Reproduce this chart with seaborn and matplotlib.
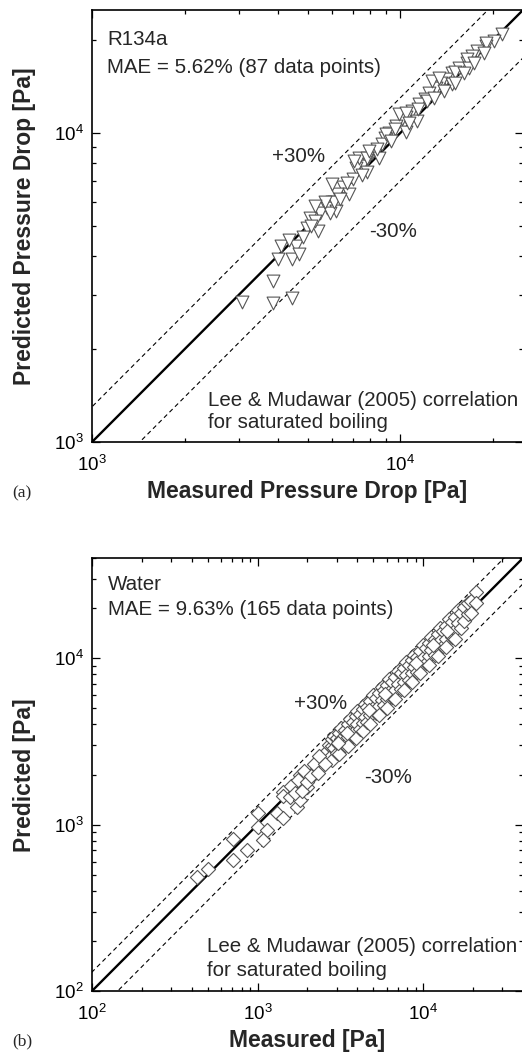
import matplotlib
matplotlib.use("Agg")
import matplotlib.pyplot as plt
import seaborn as sns
import numpy as np
import pandas as pd
from matplotlib.ticker import LogLocator, LogFormatterSciNotation, NullFormatter

sns.set_style("ticks")
plt.rcParams['font.family'] = ['Liberation Sans', 'DejaVu Sans']
plt.rcParams['mathtext.fontset'] = 'custom'
plt.rcParams['mathtext.rm'] = 'Liberation Sans'

# ---------------- data: panel (a) R134a ----------------
r134a_measured = [21400, 20100, 19000, 17700, 17100, 16400, 15500, 14700, 14100, 13600,
                  13100, 12400, 12000, 11500, 10900, 10400, 10100, 9700, 9200, 8900,
                  8700, 8100, 7800, 7500, 7200, 7000, 6500, 6250, 6000, 5800,
                  5500, 5100, 4970, 5400, 4100, 4600, 4000, 4470, 4700, 3850,
                  3060, 3850, 4470,
                  6000, 7360, 7800, 9000, 9900, 10400, 12700, 13400, 15100, 16400, 18900,
                  8550, 10400, 11300, 14700, 16700, 7800, 6200, 5900, 6100, 5300, 4850, 6800,
                  13900, 12200, 11400, 10700, 9600, 8400, 7900, 7500, 6700, 6350, 5700, 5150,
                  4370, 16100, 17300, 18700, 15000, 12900, 9350, 7100, 5300]
r134a_predicted = [20900, 19800, 19100, 18400, 17700, 16800, 16200, 15600, 14900, 14500,
                   14000, 13500, 12900, 12400, 11800, 11300, 11100, 10500, 10000, 9600,
                   9200, 8600, 8200, 7800, 7700, 7100, 6700, 6350, 6000, 5700,
                   5500, 5300, 4940, 4830, 4300, 4300, 3900, 3900, 4070, 3330,
                   2830, 2810, 2920,
                   6850, 8300, 8300, 9900, 11500, 11600, 14700, 15100, 15800, 17300, 19600,
                   8300, 10100, 10900, 14400, 16200, 7500, 5600, 5500, 6000, 5200, 4600, 6350,
                   13700, 12700, 11950, 10800, 10300, 8900, 8750, 7300, 6900, 6100, 6000, 5000,
                   4500, 15600, 16800, 18100, 14500, 13000, 9400, 8100, 5800]

# ---------------- data: panel (b) Water ----------------
water_measured = [430, 500, 707, 707, 859, 1000, 1000, 1133, 1072, 1300, 1415, 1415, 1415, 1560,
                  1718, 1790, 1790, 1973, 2056, 2145, 2250, 2362, 2450, 2600,
                  1600, 1680, 1750, 1850, 1900, 2000, 2100, 2200, 2300, 2500,
                  2700, 2700, 2800, 2800, 2800, 2900, 2900, 3000, 3000, 3100, 3100, 3100,
                  3200, 3200, 3350, 3350, 3500, 3500, 3500, 3600, 3600, 3750, 3750,
                  3900, 3900, 3900, 4000, 4000, 4150, 4150, 4300, 4300, 4300, 4450, 4450,
                  4600, 4600, 4800, 4800, 4800, 5000, 5000, 5200, 5200, 5400, 5400, 5400,
                  5600, 5600, 5800, 5800, 6000, 6000, 6000, 6250, 6250, 6500, 6500,
                  6750, 6750, 6750, 7000, 7000, 7300, 7300, 7600, 7600, 7600, 7900, 7900,
                  8200, 8200, 8500, 8500, 8500, 8800, 8800, 9200, 9200, 9600, 9600, 9600,
                  10000, 10000, 10400, 10400, 10800, 10800, 10800, 11200, 11200, 11700, 11700,
                  12200, 12200, 12200, 12700, 12700, 13200, 13200, 13700, 13700, 13700,
                  14300, 14300, 14900, 14900, 15500, 15500, 15500, 16200, 16200, 16900, 16900,
                  17600, 17600, 18500, 18500, 19500, 19500, 20900, 20900,
                  2350, 2550, 3050, 3450, 4700, 5900, 9000, 11500, 14000]
water_predicted = [486, 543, 824, 615, 707, 1181, 972, 933, 812, 1181, 1102, 1560, 1480, 1455,
                   1283, 1415, 2000, 1694, 1867, 2056, 2120, 2362, 2280, 2500,
                   1700, 1550, 1850, 1600, 2100, 1800, 1950, 2300, 2050, 2650,
                   3000, 2500, 2950, 2450, 3250, 2900, 3400, 2700, 3300, 3550, 3000, 2650,
                   3250, 3800, 3000, 3700, 4000, 3350, 2950, 3600, 4300, 3400, 4150,
                   4500, 3700, 3300, 4000, 4800, 3750, 4600, 4950, 4100, 3650, 4450, 5300,
                   4150, 5100, 5500, 4550, 4050, 5000, 6000, 4700, 5750, 6200, 5150, 4550,
                   5600, 6700, 5200, 6400, 6900, 5700, 5050, 6250, 7500, 5850, 7200,
                   7750, 6400, 5700, 7000, 8400, 6550, 8100, 8700, 7200, 6400, 7900, 9500,
                   7400, 9100, 9800, 8100, 7200, 8800, 10500, 8300, 10200, 11000, 9100, 8100,
                   10000, 12000, 9400, 11500, 12400, 10300, 9100, 11200, 13400, 10500, 13000,
                   14000, 11600, 10300, 12700, 15200, 11900, 14600, 15700, 13000, 11600,
                   14300, 17100, 13400, 16500, 17800, 14700, 13100, 16200, 19400, 15200, 18800,
                   20200, 16700, 18500, 21500, 22000, 18600, 25000, 21500,
                   2600, 2300, 3100, 3550, 4900, 6100, 9400, 12000, 14500]

lim_a = (1e3, 2.5e4)
lim_b = (1e2, 4e4)

W, H = 522, 1055
fig = plt.figure(figsize=(W / 100, H / 100), dpi=100)

def px_rect(left, top, width, height):
    return [left / W, 1 - (top + height) / H, width / W, height / H]

ax_a = fig.add_axes(px_rect(92, 10, 431, 432))
ax_b = fig.add_axes(px_rect(92, 558, 431, 433))

tick_fs = 13.5
text_fs = 14.8
label_fs = 16.5

def style_axis(ax, lim):
    ax.set_xscale('log')
    ax.set_yscale('log')
    ax.set_xlim(*lim)
    ax.set_ylim(*lim)
    for s in ax.spines.values():
        s.set_linewidth(1.2)
        s.set_color('black')
        s.set_visible(True)
    ax.xaxis.set_major_locator(LogLocator(base=10, numticks=10))
    ax.yaxis.set_major_locator(LogLocator(base=10, numticks=10))
    ax.xaxis.set_minor_locator(LogLocator(base=10, subs=np.arange(2, 10), numticks=20))
    ax.yaxis.set_minor_locator(LogLocator(base=10, subs=np.arange(2, 10), numticks=20))
    ax.xaxis.set_minor_formatter(NullFormatter())
    ax.yaxis.set_minor_formatter(NullFormatter())
    ax.xaxis.set_major_formatter(LogFormatterSciNotation())
    ax.yaxis.set_major_formatter(LogFormatterSciNotation())
    ax.tick_params(which='both', direction='in', top=True, right=True, colors='black',
                   labelsize=tick_fs, width=0.9)
    ax.tick_params(which='major', length=6)
    ax.tick_params(which='minor', length=3)
    ax.tick_params(axis='x', which='major', pad=9)
    ax.tick_params(axis='y', which='major', pad=6)
    ax.set_xlabel('')
    ax.set_ylabel('')

def diag_lines(ax, lim):
    xs = np.array([lim[0] * 0.5, lim[1] * 2])
    ax.plot(xs, xs, color='black', lw=1.7, zorder=1)
    ax.plot(xs, 1.3 * xs, color='black', lw=0.8, ls=(0, (4, 3)), zorder=1)
    ax.plot(xs, 0.7 * xs, color='black', lw=0.8, ls=(0, (4, 3)), zorder=1)

# ---- panel (a)
df_a = pd.DataFrame({'Measured': r134a_measured, 'Predicted': r134a_predicted})
diag_lines(ax_a, lim_a)
sns.scatterplot(data=df_a, x='Measured', y='Predicted', ax=ax_a, marker='v', s=85,
                facecolor='white', edgecolor='#555555', linewidth=0.8, zorder=3)
style_axis(ax_a, lim_a)
ax_a.text(0.035, 0.931, 'R134a', transform=ax_a.transAxes, fontsize=text_fs, va='center')
ax_a.text(0.035, 0.866, 'MAE = 5.62% (87 data points)', transform=ax_a.transAxes,
          fontsize=text_fs, va='center')
ax_a.text(0.479, 0.660, '+30%', transform=ax_a.transAxes, fontsize=text_fs, va='center', ha='center')
ax_a.text(0.698, 0.488, '-30%', transform=ax_a.transAxes, fontsize=text_fs, va='center', ha='center')
ax_a.text(0.270, 0.097, 'Lee & Mudawar (2005) correlation', transform=ax_a.transAxes,
          fontsize=text_fs, va='center')
ax_a.text(0.270, 0.046, 'for saturated boiling', transform=ax_a.transAxes,
          fontsize=text_fs, va='center')

# ---- panel (b)
df_b = pd.DataFrame({'Measured': water_measured, 'Predicted': water_predicted})
diag_lines(ax_b, lim_b)
sns.scatterplot(data=df_b, x='Measured', y='Predicted', ax=ax_b, marker='D', s=52,
                facecolor='white', edgecolor='#555555', linewidth=0.8, zorder=3)
style_axis(ax_b, lim_b)
ax_b.text(0.037, 0.938, 'Water', transform=ax_b.transAxes, fontsize=text_fs, va='center')
ax_b.text(0.037, 0.880, 'MAE = 9.63% (165 data points)', transform=ax_b.transAxes,
          fontsize=text_fs, va='center')
ax_b.text(0.530, 0.665, '+30%', transform=ax_b.transAxes, fontsize=text_fs, va='center', ha='center')
ax_b.text(0.686, 0.494, '-30%', transform=ax_b.transAxes, fontsize=text_fs, va='center', ha='center')
ax_b.text(0.267, 0.102, 'Lee & Mudawar (2005) correlation', transform=ax_b.transAxes,
          fontsize=text_fs, va='center')
ax_b.text(0.267, 0.048, 'for saturated boiling', transform=ax_b.transAxes,
          fontsize=text_fs, va='center')

# ---- figure-level labels (pixel positions)
def ftext(x, y, s, **kw):
    fig.text(x / W, 1 - y / H, s, **kw)

ftext(25, 226, 'Predicted Pressure Drop [Pa]', rotation=90, fontsize=label_fs,
      fontweight='bold', ha='center', va='center')
ftext(307, 492, 'Measured Pressure Drop [Pa]', fontsize=label_fs, fontweight='bold',
      ha='center', va='center')
ftext(25, 775, 'Predicted [Pa]', rotation=90, fontsize=label_fs, fontweight='bold',
      ha='center', va='center')
ftext(307, 1040, 'Measured [Pa]', fontsize=label_fs, fontweight='bold',
      ha='center', va='center')
ftext(22, 493, '(a)', fontsize=12.5, ha='center', va='center', family=['Liberation Serif', 'DejaVu Serif'])
ftext(22, 1041, '(b)', fontsize=12.5, ha='center', va='center', family=['Liberation Serif', 'DejaVu Serif'])

fig.savefig('out.png', dpi=100)
